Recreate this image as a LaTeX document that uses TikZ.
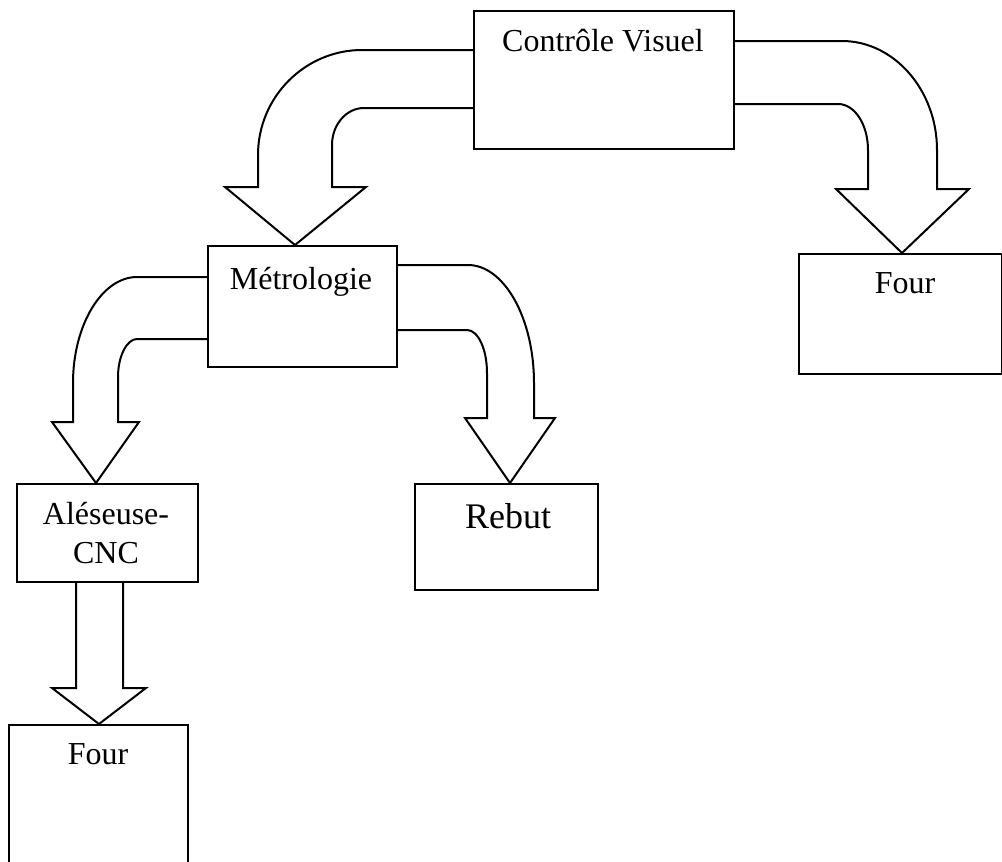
\documentclass[tikz,border=0pt]{standalone}
\usepackage{fontspec}
\setmainfont{Liberation Serif}
\begin{document}
\begin{tikzpicture}[x=1pt,y=-1pt,line join=miter,
  box/.style={draw=black,line width=2pt,fill=white,rectangle,inner sep=0pt,anchor=north west},
  blockarrow/.style={draw=black,line width=2pt,fill=white},
  lbl/.style={anchor=base,inner sep=0pt,font=\fontsize{32}{38}\selectfont},
  biglbl/.style={anchor=base,inner sep=0pt,font=\fontsize{36}{42}\selectfont}]
\useasboundingbox (0,0) rectangle (1002,862);
\clip (0,0) rectangle (1002,862);
% tips
\coordinate (t1) at (295,245);
\coordinate (t2) at (902,253);
\coordinate (t3) at (510,483);
\coordinate (t4) at (96,483);
\coordinate (t5) at (99,724);
% block arrows
\draw[blockarrow] (473,50) -- (362,50) .. controls (305,50) and (258,97) .. (258,155)
  -- (258,187) -- (225,187) -- (t1) -- (366,187) -- (332,187) -- (332,145)
  .. controls (332,125) and (346,108) .. (364,108) -- (473,108);
\draw[blockarrow] (733,41) -- (842,41) .. controls (894,41) and (937,90) .. (937,150)
  -- (937,189) -- (969,189) -- (t2) -- (836,189) -- (868,189) -- (868,150)
  .. controls (868,125) and (855,104) .. (838,104) -- (733,104);
\draw[blockarrow] (396,265) -- (468,265) .. controls (504,265) and (534,318) .. (534,383)
  -- (534,418) -- (555,418) -- (t3) -- (465,418) -- (487,418) -- (487,373)
  .. controls (487,349) and (478,330) .. (467,330) -- (396,330);
\draw[blockarrow] (207,277) -- (137,277) .. controls (102,277) and (73,325) .. (73,383)
  -- (73,422) -- (52,422) -- (t4) -- (139,422) -- (118,422) -- (118,377)
  .. controls (118,356) and (127,339) .. (137,339) -- (207,339);
\draw[blockarrow] (76,582) -- (76,688) -- (52,688) -- (t5) -- (146,688) -- (123,688) -- (123,582);
% boxes
\node[box,minimum width=260pt,minimum height=138pt] (cv) at (473,10) {};
\node[box,minimum width=189pt,minimum height=121pt] (met) at (207,245) {};
\node[box,minimum width=203pt,minimum height=120pt] (fourR) at (798,253) {};
\node[box,minimum width=181pt,minimum height=98pt] (ale) at (16,483) {};
\node[box,minimum width=183pt,minimum height=106pt] (rebut) at (414,483) {};
\node[box,minimum width=179pt,minimum height=160pt] (fourL) at (8,724) {};
% labels
\node[lbl] (cvt) at (603,51) {Contrôle Visuel};
\node[lbl] (mett) at (301,289) {Métrologie};
\node[lbl] (fourRt) at (905,293) {Four};
\node[lbl] (alet1) at (106,524) {Aléseuse-};
\node[lbl] (alet2) at (106,563) {CNC};
\node[biglbl] (rebutt) at (508,528) {Rebut};
\node[lbl] (fourLt) at (98,764) {Four};
\end{tikzpicture}
\end{document}
